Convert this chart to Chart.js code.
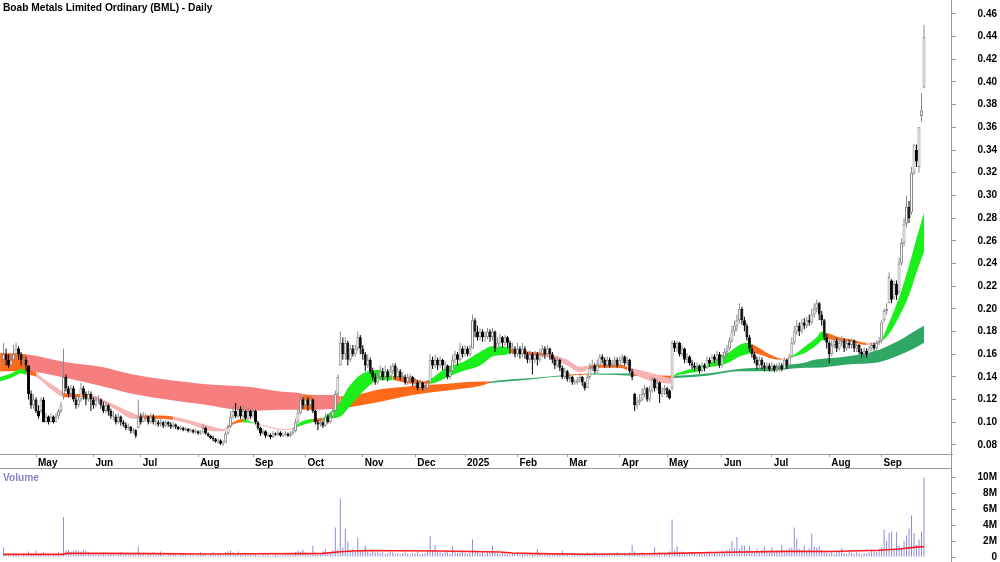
<!DOCTYPE html>
<html>
<head>
<meta charset="utf-8">
<script src="https://cdn.jsdelivr.net/npm/chart.js@4.4.1/dist/chart.umd.min.js"></script>
<style>
body{margin:0;background:#fff;width:1000px;height:562px;overflow:hidden;position:relative;font-family:"Liberation Sans",Arial,sans-serif}
#price{position:absolute;left:0;top:0}
#vol{position:absolute;left:0;top:468px}
.t{position:absolute;font-weight:bold;font-size:10.2px;line-height:12px;white-space:nowrap}
.ln{position:absolute;background:#999}
</style>
</head>
<body>
<canvas id="price" width="1000" height="470" style="width:1000px;height:470px"></canvas>
<canvas id="vol" width="1000" height="94" style="width:1000px;height:94px"></canvas>
<div class="ln" style="left:951px;top:0;width:1px;height:562px"></div>
<div class="ln" style="left:0;top:468px;width:952px;height:1px"></div>
<div class="t" style="left:3px;top:2px;color:#000">Boab Metals Limited Ordinary (BML) - Daily</div>
<div class="t" style="left:3px;top:472px;color:#8585c8">Volume</div>
<script>
// trading calendar (ASX), 11 Apr 2024 .. 24 Sep 2025
var HOLIDAYS = ['2024-04-25','2024-06-10','2024-12-25','2024-12-26','2025-01-01','2025-01-27','2025-04-18','2025-04-21','2025-04-25','2025-06-09']
var MONTH_NAMES = ['Jan','Feb','Mar','Apr','May','Jun','Jul','Aug','Sep','Oct','Nov','Dec']
var PRICE_TICKS = [0.08,0.10,0.12,0.14,0.16,0.18,0.20,0.22,0.24,0.26,0.28,0.30,0.32,0.34,0.36,0.38,0.40,0.42,0.44,0.46]
var VOLUME_TICKS = [0,2,4,6,8,10]

var OPEN = [
.155,.160,.155,.150,.155,.160,.165,.160,.155,.155,
.150,.125,.115,.120,.110,.110,.120,.100,.105,.100,
.105,.100,.105,.110,.125,.140,.130,.125,.130,.120,
.115,.120,.130,.125,.120,.125,.120,.115,.120,.120,
.115,.110,.115,.110,.105,.105,.100,.105,.100,.098,
.095,.096,.092,.093,.095,.105,.100,.105,.105,.100,
.105,.100,.100,.098,.100,.097,.100,.098,.096,.098,
.096,.094,.095,.093,.094,.092,.093,.091,.092,.090,
.091,.095,.090,.088,.086,.085,.083,.084,.081,.082,
.090,.096,.105,.110,.105,.112,.105,.110,.103,.110,
.105,.110,.100,.095,.090,.092,.088,.089,.087,.090,
.089,.091,.088,.089,.090,.088,.090,.092,.100,.108,
.120,.115,.120,.115,.120,.110,.100,.098,.100,.097,
.105,.100,.105,.110,.125,.150,.170,.160,.170,.155,
.165,.160,.165,.175,.165,.160,.150,.155,.145,.140,
.135,.140,.145,.140,.145,.140,.145,.150,.140,.145,
.140,.140,.135,.140,.140,.135,.135,.130,.135,.130,
.130,.135,.155,.150,.155,.150,.155,.150,.150,.140,
.145,.155,.160,.155,.165,.160,.165,.160,.165,.190,
.180,.175,.180,.175,.175,.180,.175,.180,.165,.170,
.175,.170,.175,.170,.165,.165,.160,.165,.160,.165,
.160,.155,.160,.155,.160,.155,.160,.165,.160,.165,
.160,.155,.150,.155,.148,.140,.145,.138,.140,.135,
.135,.137,.140,.135,.130,.140,.148,.150,.145,.150,
.158,.155,.150,.155,.150,.152,.155,.150,.155,.158,
.152,.155,.145,.125,.115,.118,.120,.125,.130,.120,
.128,.138,.130,.135,.125,.128,.130,.128,.130,.170,
.165,.170,.160,.165,.155,.158,.152,.150,.148,.150,
.145,.150,.148,.155,.152,.158,.155,.160,.150,.158,
.162,.165,.172,.180,.185,.190,.200,.190,.185,.175,
.165,.160,.155,.150,.155,.150,.148,.150,.147,.150,
.146,.148,.150,.147,.155,.150,.158,.170,.180,.185,
.180,.188,.185,.190,.188,.195,.200,.205,.195,.190,
.175,.170,.160,.168,.172,.165,.170,.172,.165,.170,
.168,.172,.165,.168,.162,.160,.163,.160,.165,.168,
.165,.170,.172,.190,.198,.205,.225,.210,.222,.215,
.240,.258,.275,.290,.285,.320,.340,.325,.370,.395]

var HIGH = [
.170,.165,.160,.160,.168,.170,.167,.162,.160,.158,
.150,.128,.125,.122,.115,.122,.122,.108,.106,.108,
.106,.108,.112,.118,.165,.142,.132,.133,.132,.122,
.124,.135,.132,.127,.128,.127,.122,.123,.124,.121,
.118,.118,.116,.112,.110,.107,.108,.106,.102,.100,
.099,.097,.095,.094,.120,.108,.109,.108,.106,.108,
.107,.104,.102,.103,.101,.102,.101,.100,.100,.099,
.097,.097,.096,.096,.095,.095,.094,.094,.093,.093,
.099,.096,.091,.089,.088,.086,.086,.085,.084,.092,
.098,.110,.114,.117,.115,.114,.115,.111,.113,.111,
.112,.111,.101,.096,.094,.093,.091,.090,.092,.091,
.093,.092,.091,.092,.091,.092,.095,.103,.112,.125,
.122,.124,.122,.123,.121,.111,.102,.104,.101,.108,
.107,.109,.112,.128,.142,.180,.175,.175,.172,.168,
.168,.168,.180,.177,.168,.162,.160,.157,.148,.143,
.145,.150,.148,.150,.147,.150,.152,.152,.148,.147,
.144,.142,.143,.143,.141,.139,.137,.138,.136,.134,
.137,.160,.158,.160,.157,.158,.156,.154,.151,.150,
.160,.163,.162,.170,.167,.168,.167,.168,.195,.192,
.185,.183,.182,.180,.183,.182,.183,.181,.175,.178,
.176,.177,.176,.172,.170,.167,.170,.167,.170,.167,
.162,.163,.162,.163,.162,.165,.168,.167,.168,.166,
.162,.157,.158,.156,.150,.148,.146,.143,.141,.138,
.140,.143,.141,.136,.142,.152,.155,.152,.155,.160,
.160,.157,.158,.157,.155,.158,.157,.158,.160,.159,
.158,.156,.147,.126,.122,.125,.130,.133,.131,.132,
.140,.139,.138,.136,.131,.133,.131,.129,.172,.172,
.172,.171,.168,.166,.161,.159,.155,.153,.153,.151,
.153,.152,.158,.157,.160,.160,.163,.162,.160,.165,
.168,.175,.185,.190,.195,.205,.202,.193,.187,.177,
.168,.162,.158,.158,.157,.153,.153,.152,.153,.151,
.152,.153,.152,.157,.156,.160,.175,.185,.190,.188,
.191,.192,.193,.195,.200,.205,.208,.206,.198,.191,
.178,.172,.172,.176,.174,.174,.176,.174,.173,.173,
.174,.173,.171,.169,.165,.166,.165,.167,.170,.170,
.172,.175,.190,.200,.205,.232,.226,.225,.225,.245,
.262,.280,.300,.295,.325,.345,.345,.360,.390,.450]

var LOW = [
.150,.150,.148,.150,.155,.158,.155,.150,.150,.145,
.120,.112,.112,.108,.103,.108,.100,.100,.098,.100,
.099,.100,.103,.108,.120,.127,.122,.122,.118,.112,
.113,.118,.120,.115,.118,.110,.112,.113,.116,.112,
.108,.108,.106,.103,.102,.098,.099,.097,.096,.093,
.093,.090,.090,.086,.095,.098,.100,.101,.098,.099,
.098,.097,.096,.096,.095,.096,.096,.094,.095,.094,
.093,.093,.092,.092,.091,.091,.090,.090,.089,.089,
.090,.089,.087,.085,.083,.082,.081,.080,.079,.082,
.089,.095,.103,.104,.104,.103,.104,.102,.102,.103,
.104,.098,.093,.088,.089,.086,.087,.085,.086,.088,
.088,.087,.087,.088,.087,.087,.089,.091,.099,.107,
.112,.113,.110,.112,.108,.098,.093,.096,.095,.096,
.099,.099,.103,.109,.124,.150,.155,.155,.150,.153,
.158,.158,.163,.160,.155,.145,.148,.143,.137,.133,
.133,.138,.137,.138,.136,.138,.142,.138,.138,.137,
.136,.133,.133,.136,.132,.132,.128,.129,.128,.128,
.128,.135,.147,.148,.146,.148,.146,.145,.138,.138,
.144,.152,.150,.153,.157,.158,.158,.158,.165,.175,
.172,.172,.171,.171,.173,.171,.172,.162,.164,.168,
.166,.167,.165,.160,.160,.157,.158,.156,.157,.156,
.152,.152,.142,.152,.150,.153,.157,.156,.158,.155,
.152,.147,.148,.145,.138,.138,.136,.135,.133,.133,
.133,.135,.132,.128,.130,.138,.145,.143,.143,.148,
.152,.148,.148,.148,.148,.150,.148,.148,.152,.150,
.150,.143,.137,.110,.112,.115,.118,.122,.118,.118,
.126,.127,.128,.117,.122,.124,.122,.120,.128,.162,
.162,.158,.158,.152,.152,.150,.147,.145,.146,.143,
.144,.145,.147,.149,.150,.152,.153,.148,.148,.155,
.158,.163,.170,.176,.180,.187,.186,.180,.172,.162,
.157,.152,.147,.148,.147,.145,.145,.145,.145,.144,
.144,.145,.145,.146,.147,.149,.157,.168,.177,.176,
.178,.182,.183,.185,.186,.192,.197,.190,.185,.172,
.165,.152,.158,.165,.162,.163,.167,.162,.163,.165,
.165,.162,.162,.160,.157,.158,.157,.158,.163,.163,
.163,.168,.170,.188,.195,.205,.205,.208,.208,.213,
.238,.255,.272,.276,.283,.318,.325,.320,.365,.395]

var CLOSE = [
.160,.155,.150,.155,.160,.165,.160,.155,.155,.150,
.125,.115,.120,.110,.105,.120,.100,.105,.100,.105,
.100,.105,.110,.115,.140,.130,.125,.130,.120,.115,
.120,.130,.125,.120,.125,.120,.115,.120,.120,.115,
.110,.115,.110,.105,.105,.100,.105,.100,.098,.095,
.096,.092,.093,.088,.105,.100,.105,.105,.100,.105,
.100,.100,.098,.100,.097,.100,.098,.096,.098,.096,
.094,.095,.093,.094,.092,.093,.091,.092,.090,.091,
.095,.090,.088,.086,.085,.083,.084,.081,.082,.090,
.096,.105,.110,.105,.112,.105,.110,.103,.110,.105,
.110,.100,.095,.090,.092,.088,.089,.087,.090,.089,
.091,.088,.089,.090,.088,.090,.092,.100,.108,.120,
.115,.120,.115,.120,.110,.100,.098,.100,.097,.105,
.100,.105,.110,.125,.140,.170,.160,.170,.155,.165,
.160,.165,.175,.165,.160,.150,.155,.145,.140,.135,
.140,.145,.140,.145,.140,.145,.150,.140,.145,.140,
.140,.135,.140,.140,.135,.135,.130,.135,.130,.130,
.135,.155,.150,.155,.150,.155,.150,.150,.140,.145,
.155,.160,.155,.165,.160,.165,.160,.165,.190,.180,
.175,.180,.175,.175,.180,.175,.180,.165,.170,.175,
.170,.175,.170,.165,.165,.160,.165,.160,.165,.160,
.155,.160,.155,.160,.155,.160,.165,.160,.165,.160,
.155,.150,.155,.148,.140,.145,.138,.140,.135,.135,
.137,.140,.135,.130,.140,.148,.150,.145,.150,.158,
.155,.150,.155,.150,.152,.155,.150,.155,.158,.152,
.155,.145,.140,.115,.118,.120,.125,.130,.120,.128,
.138,.130,.135,.125,.128,.130,.125,.121,.170,.165,
.170,.160,.165,.155,.158,.152,.150,.148,.150,.145,
.150,.148,.155,.152,.158,.155,.160,.150,.158,.162,
.165,.172,.180,.185,.190,.200,.190,.185,.175,.165,
.160,.155,.150,.155,.150,.148,.150,.147,.150,.146,
.148,.150,.147,.155,.150,.158,.170,.180,.185,.180,
.188,.185,.190,.188,.195,.200,.205,.195,.190,.175,
.170,.160,.168,.172,.165,.170,.172,.165,.170,.168,
.172,.165,.168,.162,.160,.163,.160,.165,.168,.165,
.170,.172,.188,.198,.200,.228,.208,.222,.212,.240,
.258,.275,.290,.280,.320,.345,.330,.360,.375,.440]

// volume in millions of shares
var VOLUME = [
1.2,.3,.4,.2,.3,.5,.3,.2,.4,.3,
.7,.5,.4,.8,.3,.5,.6,.4,.3,.2,
.3,.4,.6,.5,5.0,.8,.9,.7,.8,.9,
.8,.7,.9,.8,.6,.5,.4,.5,.3,.4,
.6,.4,.3,.5,.4,.3,.4,.6,.3,.4,
.3,.5,.4,.3,1.3,.5,.4,.3,.5,.4,
.6,.3,.4,.7,.3,.2,.4,.3,.5,.3,
.2,.4,.3,.5,.2,.3,.4,.2,.3,.6,
.4,.3,.2,.5,.6,.3,.4,.5,.3,.6,
.7,.8,.6,.5,.7,.4,.3,.5,.4,.3,
.5,.4,.3,.2,.4,.3,.5,.2,.3,.4,
.3,.2,.4,.3,.5,.3,.4,.6,.8,.7,
.9,.6,.5,.4,1.4,.6,.5,.4,.7,1.0,
.5,.6,.8,3.7,.9,7.3,1.2,3.5,1.9,.8,
1.0,.7,2.4,.9,.8,1.4,.7,.5,.8,.6,
.7,.5,.6,.4,.5,.7,.6,.4,.5,.3,
.5,.6,.4,.3,.5,.4,.6,.3,.4,.5,
.8,2.6,.9,1.5,.7,.6,.5,.8,.6,.4,
1.3,.7,.5,.6,.8,.5,.4,.6,2.2,.8,
.6,.5,.7,.4,.6,.5,1.4,.7,.5,.4,
.6,.5,.4,.3,.5,.4,.6,.3,.4,.5,
.3,.4,.5,.3,1.0,.4,.3,.5,.4,.3,
.4,.3,.5,.4,.8,.3,.4,.2,.5,.3,
.4,.3,.5,.4,.6,.5,.4,.6,.3,.4,
.5,.3,.4,.5,.3,.4,.6,.3,.4,.5,
.3,.6,1.5,.7,.5,.4,.6,.5,.3,.4,
.5,1.2,.4,.6,.3,.5,.4,.7,4.7,.8,
1.3,.6,.7,.5,.4,.6,.5,.4,.3,.5,
.6,.4,.5,.7,.4,.5,.6,.4,.8,.7,
.9,1.0,2.0,1.1,2.5,1.0,1.5,1.4,.9,1.4,
.8,.7,1.0,.6,.9,1.3,.8,.7,1.2,.6,
.8,.7,1.5,.6,.9,1.1,1.2,3.7,2.3,1.0,
.9,1.4,.8,1.1,2.9,1.3,1.2,1.3,.9,.7,
.6,.5,.8,.4,.6,.7,1.1,.5,.4,.6,
.5,.4,.6,.5,.3,.5,.4,.6,.9,.8,
.7,1.0,1.2,3.4,2.0,3.0,3.2,1.0,3.1,1.4,
1.0,2.0,2.7,3.6,5.2,3.0,1.5,2.2,3.2,9.9]

// red volume average, read at a few bars
var VOL_AVG_AT = [0,24,25,40,60,80,100,120,128,135,140,146,158,175,199,204,214,234,252,268,290,314,332,351,359,365,369]
var VOL_AVG = [.33,.33,.45,.45,.42,.38,.40,.42,.45,.65,.75,.80,.78,.75,.62,.50,.42,.35,.37,.45,.60,.70,.68,.85,1.0,1.2,1.3]

// short-term ribbon edges, read at bar positions (G green, O orange, P pink)
var SHORT_AT = [-1.4,3,7,9,13,15,19,23,24,29,33,35,39,45,52,55,63,68,74,79,84,88,90,92,96,99,102,107,112,116,119,124,128,131,135,138,142,146,150,154,156,159,164,168,171,178,184,191,196,199,202,203,212,217,226,231,235,239,247,250,255,262,267,269,274,279,282,287,291,295,298,300,304,308,312,314,316,322,326,328,330,335,340,346,351,355,359,363,366,369]
var SHORT_TOP = [.140,.143,.147,.146,.144,.140,.134,.128,.126,.125,.125,.124,.121,.115,.108,.106,.106,.105,.102,.099,.096,.094,.097,.100,.103,.1005,.099,.096,.094,.095,.100,.103,.104,.109,.118,.130,.140,.145,.146,.143,.141,.140,.139,.136,.138,.149,.153,.162,.167,.167,.166,.165,.162,.161,.155,.149,.150,.151,.151,.149,.146,.142,.139,.142,.146,.149,.152,.158,.162,.168,.170,.169,.164,.159,.156,.156,.158,.168,.175,.180,.179,.175,.173,.170,.171,.188,.210,.238,.262,.285]
var SHORT_BOT = [.136,.139,.143,.142,.140,.137,.129,.123,.122,.122,.122,.121,.118,.111,.103,.103,.103,.102,.099,.095,.092,.092,.095,.098,.100,.0995,.098,.095,.093,.094,.097,.100,.101,.103,.105,.112,.122,.131,.137,.137,.137,.136,.134,.134,.134,.140,.145,.150,.158,.159,.160,.161,.159,.158,.150,.144,.147,.148,.148,.146,.140,.135,.134,.140,.143,.145,.148,.150,.153,.158,.160,.161,.159,.156,.155,.155,.157,.162,.168,.172,.173,.172,.171,.168,.170,.178,.193,.212,.232,.250]
var SHORT_STATE = 'GGGOPPPPOOOPPPPOOPPPPPOOGGPPPGGOGGGGGGGGOOOOGGGGGGGOOPPPOOOPPPPGGGGGGGGOOOPOGGGGOOOPGGGGGG'.split('')

// long-term ribbon edges (R red, O orange, G green)
var LONG_AT = [-1.4,9,25,39,52,79,99,111,119,120,124,134,135,138,151,164,178,191,195,199,212,224,235,252,268,282,295,308,311,322,325,338,351,359,365,369]
var LONG_TOP = [.161,.160,.153,.149,.142,.134,.131,.127,.1255,.125,.124,.124,.123,.123,.129,.132,.134,.136,.136,.137,.139,.1415,.143,.143,.141,.143,.147,.149,.150,.153,.155,.158,.164,.172,.180,.185]
var LONG_BOT = [.145,.145,.139,.132,.125,.116,.110,.111,.111,.111,.111,.112,.112,.113,.118,.124,.128,.132,.1345,.1355,.138,.1405,.142,.141,.139,.141,.145,.145,.146,.148,.148,.151,.153,.159,.165,.170]
var LONG_STATE = 'ORRRRRRRRORROOOOOOGGGOGOGGGGGGGGGGGG'.split('')

var SHORT_COLOURS = {G: '#1cee1c', O: '#ff6a1a', P: '#f8b4b4'}
var LONG_COLOURS = {R: '#f77e7e', O: '#ff6a1a', G: '#2fa865'}

// build the trading days and month ticks
var days = []
for (var d = new Date(Date.UTC(2024, 3, 11)); d <= Date.UTC(2025, 8, 24); d.setUTCDate(d.getUTCDate() + 1)) {
  var wd = d.getUTCDay()
  if (wd == 0 || wd == 6 || HOLIDAYS.indexOf(d.toISOString().slice(0, 10)) >= 0) continue
  days.push(new Date(d))
}
var monthTicks = []
days.forEach((v, i) => {
  if (i && v.getUTCMonth() != days[i - 1].getUTCMonth())
    monthTicks.push({i: i, label: v.getUTCMonth() == 0 ? String(v.getUTCFullYear()) : MONTH_NAMES[v.getUTCMonth()]})
})

var X_MIN = -1.443, X_MAX = 380.23
var font = {family: "'Liberation Sans', Arial, sans-serif", weight: 'bold', size: 10}
var idx = CLOSE.map((v, i) => i)
var up = idx.map(i => CLOSE[i] >= OPEN[i])

function ribbon(at, top, bot, state, colours, order) {
  return [{
    type: 'line', data: at.map((x, k) => ({x: x, y: top[k]})),
    borderWidth: 0, borderColor: 'rgba(0,0,0,0)', pointRadius: 0,
    cubicInterpolationMode: 'monotone', fill: false, order: order
  }, {
    type: 'line', data: at.map((x, k) => ({x: x, y: bot[k]})),
    borderWidth: 0, borderColor: 'rgba(0,0,0,0)', pointRadius: 0,
    cubicInterpolationMode: 'monotone', fill: '-1', order: order,
    backgroundColor: colours[state[0]],
    segment: {backgroundColor: c => colours[state[c.p0DataIndex]]}
  }]
}

function yAxisFit(s) {
  s.width = 45
  s.paddingTop = 0
  s.paddingBottom = 0
}

new Chart('price', {
  type: 'bar',
  data: {
    datasets: [].concat(
      ribbon(LONG_AT, LONG_TOP, LONG_BOT, LONG_STATE, LONG_COLOURS, 4),
      ribbon(SHORT_AT, SHORT_TOP, SHORT_BOT, SHORT_STATE, SHORT_COLOURS, 3),
      [{
        data: idx.map(i => ({x: i, y: [LOW[i], HIGH[i]]})),
        backgroundColor: idx.map(i => up[i] ? '#8a8a8a' : '#000'),
        barThickness: 1, grouped: false, inflateAmount: 0, order: 2
      }, {
        data: idx.map(i => ({x: i, y: [Math.min(OPEN[i], CLOSE[i]), Math.max(OPEN[i], CLOSE[i])]})),
        backgroundColor: idx.map(i => up[i] ? '#fff' : '#000'),
        borderColor: idx.map(i => up[i] ? '#8a8a8a' : '#000'),
        borderWidth: 1, borderSkipped: false, minBarLength: 1,
        barThickness: 3, grouped: false, inflateAmount: 0, order: 1
      }]
    )
  },
  options: {
    responsive: false, animation: false, events: [],
    layout: {padding: {left: 0, right: 3, top: 0, bottom: 2}},
    plugins: {legend: {display: false}, tooltip: {enabled: false}},
    scales: {
      x: {
        type: 'linear', min: X_MIN, max: X_MAX, offset: false,
        grid: {drawOnChartArea: false, offset: false, tickLength: 3, color: '#999'},
        border: {display: true, color: '#999'},
        ticks: {font: font, color: '#000', align: 'start', labelOffset: 2, padding: 0, maxRotation: 0, autoSkip: false,
          callback: (v, k) => monthTicks[k] ? monthTicks[k].label : ''},
        afterBuildTicks: s => { s.ticks = monthTicks.map(m => ({value: m.i})) },
        afterFit: s => { s.height = 14; s.paddingLeft = 0; s.paddingRight = 0 }
      },
      y: {
        position: 'right', min: 0.072, max: 0.4723,
        grid: {drawOnChartArea: false, tickLength: 4, color: '#999'},
        border: {display: false},
        ticks: {font: font, color: '#000', crossAlign: 'far', padding: 21.5, callback: v => v.toFixed(2)},
        afterBuildTicks: s => { s.ticks = PRICE_TICKS.map(v => ({value: v})) },
        afterFit: yAxisFit
      }
    }
  }
})

new Chart('vol', {
  type: 'bar',
  data: {
    datasets: [{
      type: 'line', data: VOL_AVG_AT.map((x, k) => ({x: x, y: VOL_AVG[k]})),
      borderColor: '#ff1e1e', borderWidth: 1.6, pointRadius: 0, fill: false, order: 0
    }, {
      data: idx.map(i => ({x: i, y: VOLUME[i]})),
      backgroundColor: '#8c8cd8', barThickness: 1, grouped: false, inflateAmount: 0, order: 1
    }]
  },
  options: {
    responsive: false, animation: false, events: [],
    layout: {padding: {left: 0, right: 3, top: 0, bottom: 5}},
    plugins: {legend: {display: false}, tooltip: {enabled: false}},
    scales: {
      x: {type: 'linear', display: false, min: X_MIN, max: X_MAX, offset: false},
      y: {
        position: 'right', min: 0, max: 11.125,
        grid: {drawOnChartArea: false, tickLength: 4, color: '#999'},
        border: {display: false},
        ticks: {font: font, color: '#000', crossAlign: 'far', padding: 21.5, callback: v => v == 0 ? '0' : v + 'M'},
        afterBuildTicks: s => { s.ticks = VOLUME_TICKS.map(v => ({value: v})) },
        afterFit: yAxisFit
      }
    }
  }
})
</script>
</body>
</html>
